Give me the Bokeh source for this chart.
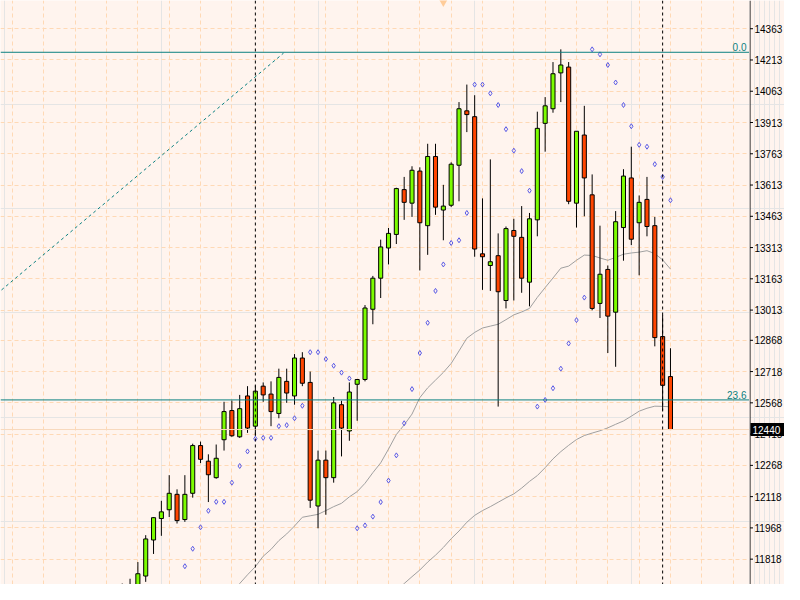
from bokeh.plotting import figure
from bokeh.layouts import row
from bokeh.models import Range1d, FixedTicker, Grid, Span, Label, ColumnDataSource
from bokeh.embed import file_html
from bokeh.resources import INLINE

# ---------------- data (weekly bars, index = bar number) ----------------
bar_index = list(range(15, 86))
opens = [11580, 11640, 11660, 11737, 11910, 12013, 12055, 12129, 12008, 12134,
         12363, 12288, 12209, 12391, 12531, 12405, 12601, 12456, 12648, 12610,
         12517, 12671, 12601, 12783, 12666, 12073, 12293, 12209, 12559, 12433,
         12657, 12680, 13017, 13166, 13311, 13376, 13591, 13526, 13680, 13418,
         13750, 13493, 13516, 13708, 13969, 13941, 13283, 13227, 13274, 13059,
         13395, 13362, 13147, 13446, 13909, 13979, 14151, 14179, 13526, 13853,
         13566, 13045, 13208, 13003, 13409, 13647, 13432, 13544, 13418, 12886,
         12694]
highs = [11701, 11724, 11804, 11933, 12019, 12098, 12221, 12153, 12221, 12372,
         12382, 12321, 12368, 12573, 12579, 12606, 12648, 12652, 12666, 12671,
         12732, 12732, 12802, 12811, 12718, 12339, 12339, 12596, 12578, 12666,
         12682, 13037, 13177, 13351, 13407, 13600, 13652, 13703, 13698, 13811,
         13811, 13614, 13722, 14011, 14095, 14044, 13549, 13736, 13381, 13414,
         13451, 13512, 13479, 13965, 14035, 14203, 14264, 14203, 13871, 13993,
         13664, 13418, 13227, 13488, 13689, 13797, 13563, 13652, 13460, 12989,
         12830]
lows = [11540, 11600, 11640, 11709, 11843, 11930, 12020, 11989, 11997, 12113,
        12279, 12092, 12204, 12339, 12405, 12400, 12424, 12410, 12573, 12456,
        12494, 12568, 12559, 12648, 12064, 11966, 12031, 12185, 12311, 12386,
        12482, 12671, 12945, 13071, 13232, 13330, 13446, 13460, 13203, 13278,
        13470, 13348, 13507, 13535, 13867, 13269, 13110, 13105, 12550, 13021,
        13059, 13096, 13031, 13367, 13773, 13960, 14011, 13521, 13409, 13463,
        13012, 12975, 12807, 12741, 13250, 13325, 13180, 13367, 12839, 12531,
        12440]
closes = [11660, 11690, 11748, 11915, 12017, 12045, 12134, 12003, 12129, 12363,
          12297, 12223, 12302, 12526, 12410, 12540, 12447, 12624, 12606, 12526,
          12690, 12615, 12783, 12662, 12101, 12293, 12209, 12568, 12447, 12620,
          12680, 13023, 13166, 13316, 13381, 13596, 13530, 13684, 13432, 13750,
          13507, 13512, 13713, 13979, 13951, 13306, 13269, 13245, 13101, 13404,
          13367, 13166, 13451, 13885, 13993, 14147, 14189, 13535, 13871, 13647,
          13021, 13185, 12984, 13437, 13656, 13353, 13530, 13414, 12881, 12652,
          12440]

# Parabolic SAR dots
sar_index = list(range(23, 86))
sar_values = [11784, 11868, 11971, 12050, 12093, 12093, 12185, 12265, 12335, 12396,
              12400, 12400, 12456, 12461, 12494, 12554, 12811, 12811, 12778, 12746,
              12713, 12685, 11966, 11980, 12022, 12092, 12195, 12316, 12470, 12634,
              12807, 12952, 13105, 13232, 13335, 13348, 13479, 14095, 14095, 14053,
              13997, 13881, 13778, 13680, 13586, 12550, 12582, 12638, 12732, 12853,
              12965, 13073, 14264, 14240, 14189, 14105, 13997, 13895, 13806, 13797,
              13713, 13652, 13540]

# moving averages
ma_fast_index = list(range(29, 86))
ma_fast = [11659, 11701, 11743, 11782, 11832, 11865, 11907, 11939, 11977, 12019,
           12026, 12033, 12051, 12070, 12086, 12117, 12142, 12182, 12233, 12280,
           12346, 12416, 12462, 12514, 12593, 12640, 12677, 12714, 12757, 12817,
           12878, 12906, 12927, 12936, 12945, 12967, 12990, 13004, 13021, 13074,
           13121, 13167, 13214, 13224, 13252, 13277, 13275, 13263, 13252, 13266,
           13281, 13287, 13291, 13298, 13284, 13254, 13210]
ma_slow_index = list(range(50, 86))
ma_slow = [11664, 11701, 11734, 11766, 11804, 11837, 11874, 11916, 11953, 11995,
           12028, 12051, 12070, 12091, 12112, 12131, 12159, 12191, 12219, 12257,
           12299, 12334, 12364, 12392, 12411, 12423, 12434, 12448, 12465, 12481,
           12504, 12528, 12542, 12552, 12551, 12549]

# Fibonacci object
fib_levels = [14250, 12582]
fib_labels = ["0.0", "23.6"]
fib_trend_x = [-1.0, 35.6]
fib_trend_y = [13091, 14246]

# other chart objects
separator_bars = [32, 84]
last_price = 12440
arrow_x = [56]
arrow_y = [14498]

# price scale ticks
price_ticks = [11818, 11968, 12118, 12268, 12418, 12568, 12718, 12868, 13013,
               13163, 13313, 13463, 13613, 13763, 13913, 14063, 14213, 14363]
price_tick_labels = [str(t) for t in price_ticks]
grid_bars = list(range(1, 96, 4))

# ---------------- styles ----------------
BG = "#FFF4EE"
GRID = "#FFD9B5"
UP = "#7CFC00"
DOWN = "#FF4500"
TEAL = "#0B8080"
FONT = "Liberation Sans"

X0, X1 = -0.54, 95.09
yr = Range1d(11696.4, 14498.4)
H = 584
MAIN_W = 749
AXIS_W = 35

# ---------------- main chart ----------------
p = figure(width=MAIN_W, height=H, output_backend="svg", toolbar_location=None,
           x_range=Range1d(X0, X1), y_range=yr,
           x_axis_location=None, y_axis_location=None,
           min_border_left=0, min_border_top=0, min_border_bottom=0, min_border_right=0)
p.background_fill_color = BG
p.border_fill_color = BG
p.outline_line_color = None

p.add_layout(Grid(dimension=1, ticker=FixedTicker(ticks=price_ticks),
                  grid_line_color=GRID, grid_line_dash="4 3"))
p.add_layout(Grid(dimension=0, ticker=FixedTicker(ticks=grid_bars),
                  grid_line_color=GRID, grid_line_dash="4 3"))

p.add_layout(Span(location=last_price, dimension="width", line_color="#F8D9BC", line_width=1))
for lv in fib_levels:
    p.add_layout(Span(location=lv, dimension="width", line_color=TEAL, line_width=1))
for b in separator_bars:
    p.add_layout(Span(location=b, dimension="height", line_color="black",
                      line_width=1, line_dash="3 3"))

p.line(fib_trend_x, fib_trend_y, line_color=TEAL, line_width=1, line_dash="3 3")

p.line(ma_fast_index, ma_fast, line_color="#A0A0A0", line_width=1)
p.line(ma_slow_index, ma_slow, line_color="#A0A0A0", line_width=1)

colors = [UP if c >= o else DOWN for o, c in zip(opens, closes)]
src = ColumnDataSource(dict(x=bar_index, o=opens, h=highs, l=lows, c=closes,
                            top=[max(o, c) for o, c in zip(opens, closes)],
                            bot=[min(o, c) for o, c in zip(opens, closes)],
                            col=colors))
p.segment(x0="x", y0="h", x1="x", y1="l", source=src, line_color="black", line_width=1)
p.vbar(x="x", top="top", bottom="bot", width=0.52, source=src,
       fill_color="col", line_color="black", line_width=1)

p.scatter(sar_index, sar_values, marker="diamond", size=5, fill_alpha=0,
          line_color="#5A5AE6", line_width=1)

p.scatter(arrow_x, arrow_y, marker="inverted_triangle", size=11,
          fill_color="#FFCC99", line_color=None)

for lv, txt in zip(fib_levels, fib_labels):
    p.add_layout(Label(x=X1, y=lv, x_offset=-3, y_offset=1, text=txt,
                       text_align="right", text_baseline="bottom",
                       text_color=TEAL, text_font=FONT, text_font_size="10px"))

# ---------------- price scale (right) ----------------
a = figure(width=AXIS_W, height=H, output_backend="svg", toolbar_location=None,
           x_range=Range1d(0, AXIS_W), y_range=yr,
           x_axis_location=None, y_axis_location=None,
           min_border_left=0, min_border_top=0, min_border_bottom=0, min_border_right=0)
a.background_fill_color = BG
a.border_fill_color = BG
a.outline_line_color = None

a.add_layout(Span(location=0.5, dimension="height", line_color="black", line_width=1))
a.segment(x0=[0.5] * len(price_ticks), y0=price_ticks, x1=[3.5] * len(price_ticks),
          y1=price_ticks, line_color="black", line_width=1)
a.text(x=[5] * len(price_ticks), y=price_ticks, text=price_tick_labels,
       text_baseline="middle", text_align="left", text_color="black",
       text_font_size="10px", text_font={"value": FONT})

a.rect(x=[18], y=[last_price], width=34, height=13, width_units="screen",
       height_units="screen", fill_color="black", line_color=None)
a.text(x=[3], y=[last_price], text=[str(last_price)], text_baseline="middle",
       text_align="left", text_color="white", text_font_size="10px",
       text_font={"value": FONT})

layout = row(p, a, spacing=0)
open("out.html", "w").write(file_html(layout, INLINE))
